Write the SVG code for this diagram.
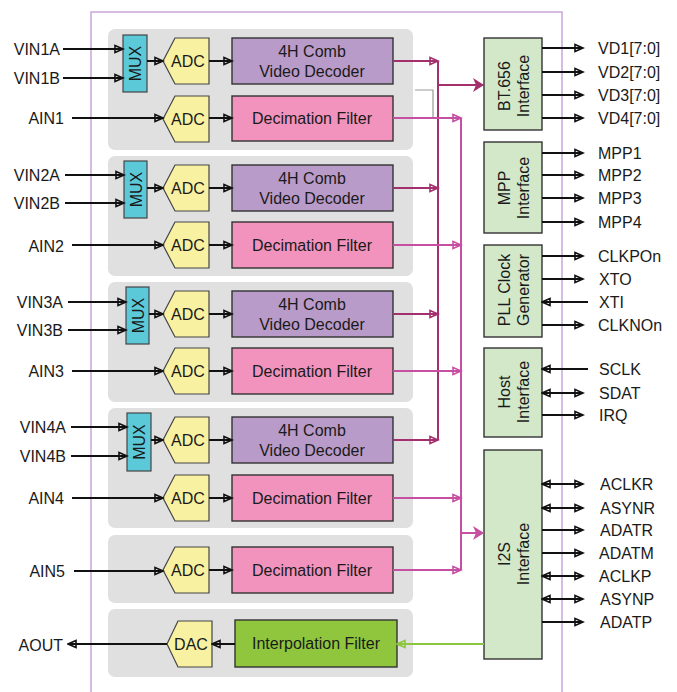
<svg xmlns="http://www.w3.org/2000/svg" width="677" height="692" viewBox="0 0 677 692">
<style>
text{font-family:"Liberation Sans",Arial,sans-serif;font-size:16px;fill:#1a1a1a}
.grp{fill:#e0e0e0}
.mux{fill:#5cc9d9;stroke:#444;stroke-width:1.2}
.adc{fill:#f8f1a2;stroke:#444;stroke-width:1.2}
.dec{fill:#b99bc9;stroke:#333;stroke-width:1.4}
.fil{fill:#f293bd;stroke:#333;stroke-width:1.4}
.itp{fill:#8fc63e;stroke:#333;stroke-width:1.4}
.ifc{fill:#d3e8c9;stroke:#333;stroke-width:1.4}
.bl{stroke:#111;stroke-width:2;fill:none}
.dm{stroke:#a3306c;stroke-width:2;fill:none}
.lm{stroke:#c64fa2;stroke-width:2;fill:none}
.gr{stroke:#8cc63f;stroke-width:2;fill:none}
.e{text-anchor:end}
.m{text-anchor:middle}
</style>
<defs>
<marker id="ab" markerUnits="userSpaceOnUse" markerWidth="11" markerHeight="10" refX="9.5" refY="5" orient="auto-start-reverse"><path d="M1.5,1.5 L9.5,5 L1.5,8.5 Z" fill="none" stroke="#111" stroke-width="1.6"/></marker>
<marker id="adm" markerUnits="userSpaceOnUse" markerWidth="11" markerHeight="10" refX="9.5" refY="5" orient="auto"><path d="M1.5,1.5 L9.5,5 L1.5,8.5 Z" fill="none" stroke="#a3306c" stroke-width="1.6"/></marker>
<marker id="alm" markerUnits="userSpaceOnUse" markerWidth="11" markerHeight="10" refX="9.5" refY="5" orient="auto"><path d="M1.5,1.5 L9.5,5 L1.5,8.5 Z" fill="none" stroke="#c64fa2" stroke-width="1.6"/></marker>
<marker id="agr" markerUnits="userSpaceOnUse" markerWidth="11" markerHeight="10" refX="9.5" refY="5" orient="auto"><path d="M1.5,1.5 L9.5,5 L1.5,8.5 Z" fill="none" stroke="#8cc63f" stroke-width="1.6"/></marker>
<marker id="bdm" markerUnits="userSpaceOnUse" markerWidth="12" markerHeight="14" refX="11" refY="7" orient="auto"><path d="M0,0 L11,7 L0,14 L3,7 Z" fill="#a3306c"/></marker>
<marker id="blm" markerUnits="userSpaceOnUse" markerWidth="12" markerHeight="14" refX="11" refY="7" orient="auto"><path d="M0,0 L11,7 L0,14 L3,7 Z" fill="#c64fa2"/></marker>
</defs>

<path d="M91,692 V12 H562 V692" fill="none" stroke="#c9a7da" stroke-width="1.5"/>

<g id="group1">
<rect class="grp" x="108" y="29" width="305" height="121" rx="7"/>
<rect class="mux" x="123" y="35" width="24" height="57"/>
<text class="m" transform="translate(135,63.5) rotate(-90)" y="6">MUX</text>
<polygon class="adc" points="175,38 209,38 209,84 175,84 163,61"/>
<text x="188" y="67" class="m">ADC</text>
<rect class="dec" x="232" y="38" width="161" height="46"/>
<text x="312" y="57" class="m">4H Comb</text>
<text x="312" y="77" class="m">Video Decoder</text>
<polygon class="adc" points="175,96 209,96 209,142 175,142 163,119"/>
<text x="188" y="125" class="m">ADC</text>
<rect class="fil" x="232" y="96" width="161" height="45"/>
<text x="312" y="124" class="m">Decimation Filter</text>
</g>

<g id="group2">
<rect class="grp" x="108" y="156" width="305" height="120" rx="7"/>
<rect class="mux" x="124" y="161" width="23" height="57"/>
<text class="m" transform="translate(135.5,189.5) rotate(-90)" y="6">MUX</text>
<polygon class="adc" points="175,165 209,165 209,211 175,211 163,188"/>
<text x="188" y="194" class="m">ADC</text>
<rect class="dec" x="232" y="165" width="161" height="46"/>
<text x="312" y="184" class="m">4H Comb</text>
<text x="312" y="204" class="m">Video Decoder</text>
<polygon class="adc" points="175,222 209,222 209,268 175,268 163,245"/>
<text x="188" y="251" class="m">ADC</text>
<rect class="fil" x="232" y="222" width="161" height="46"/>
<text x="312" y="251" class="m">Decimation Filter</text>
</g>

<g id="group3">
<rect class="grp" x="108" y="282" width="305" height="120" rx="7"/>
<rect class="mux" x="126" y="287" width="23" height="57"/>
<text class="m" transform="translate(137.5,315.5) rotate(-90)" y="6">MUX</text>
<polygon class="adc" points="175,291 209,291 209,337 175,337 163,314"/>
<text x="188" y="320" class="m">ADC</text>
<rect class="dec" x="232" y="291" width="161" height="46"/>
<text x="312" y="310" class="m">4H Comb</text>
<text x="312" y="330" class="m">Video Decoder</text>
<polygon class="adc" points="175,348 209,348 209,394 175,394 163,371"/>
<text x="188" y="377" class="m">ADC</text>
<rect class="fil" x="232" y="348" width="161" height="46"/>
<text x="312" y="377" class="m">Decimation Filter</text>
</g>

<g id="group4">
<rect class="grp" x="108" y="408" width="305" height="120" rx="7"/>
<rect class="mux" x="127" y="413" width="24" height="58"/>
<text class="m" transform="translate(139,442) rotate(-90)" y="6">MUX</text>
<polygon class="adc" points="175,417 209,417 209,463 175,463 163,440"/>
<text x="188" y="446" class="m">ADC</text>
<rect class="dec" x="232" y="417" width="161" height="46"/>
<text x="312" y="436" class="m">4H Comb</text>
<text x="312" y="456" class="m">Video Decoder</text>
<polygon class="adc" points="175,475 209,475 209,521 175,521 163,498"/>
<text x="188" y="504" class="m">ADC</text>
<rect class="fil" x="232" y="475" width="161" height="46"/>
<text x="312" y="504" class="m">Decimation Filter</text>
</g>

<g id="group5">
<rect class="grp" x="108" y="535" width="305" height="68" rx="7"/>
<polygon class="adc" points="175,547 209,547 209,593 175,593 163,570"/>
<text x="188" y="576" class="m">ADC</text>
<rect class="fil" x="232" y="547" width="161" height="46"/>
<text x="312" y="576" class="m">Decimation Filter</text>
</g>

<g id="group6">
<rect class="grp" x="108" y="609" width="305" height="68" rx="7"/>
<polygon class="adc" points="178,621 212,621 212,667 178,667 167,644"/>
<text x="191" y="650" class="m">DAC</text>
<rect class="itp" x="235" y="620" width="162" height="47"/>
<text x="316" y="649" class="m">Interpolation Filter</text>
</g>

<g id="bt656">
<rect class="ifc" x="484" y="38" width="58" height="92"/>
<g transform="translate(513,86) rotate(-90)"><text class="m" y="-3">BT.656</text><text class="m" y="16">Interface</text></g>
</g>
<g id="mpp">
<rect class="ifc" x="484" y="142" width="58" height="91"/>
<g transform="translate(513,188) rotate(-90)"><text class="m" y="-3">MPP</text><text class="m" y="16">Interface</text></g>
</g>
<g id="pll">
<rect class="ifc" x="484" y="245" width="58" height="92"/>
<g transform="translate(513,290) rotate(-90)"><text class="m" y="-3">PLL Clock</text><text class="m" y="16">Generator</text></g>
</g>
<g id="host">
<rect class="ifc" x="484" y="348" width="58" height="89"/>
<g transform="translate(513,392) rotate(-90)"><text class="m" y="-3">Host</text><text class="m" y="16">Interface</text></g>
</g>
<g id="i2s">
<rect class="ifc" x="484" y="450" width="58" height="209"/>
<g transform="translate(513,554) rotate(-90)"><text class="m" y="-3">I2S</text><text class="m" y="16">Interface</text></g>
</g>

<g id="labels">
<text x="60" y="55" class="e">VIN1A</text>
<text x="60" y="84" class="e">VIN1B</text>
<text x="64" y="124" class="e">AIN1</text>
<text x="60" y="181" class="e">VIN2A</text>
<text x="60" y="209" class="e">VIN2B</text>
<text x="64" y="252" class="e">AIN2</text>
<text x="63" y="308" class="e">VIN3A</text>
<text x="63" y="336" class="e">VIN3B</text>
<text x="64" y="377" class="e">AIN3</text>
<text x="66" y="433" class="e">VIN4A</text>
<text x="66" y="462" class="e">VIN4B</text>
<text x="64" y="504" class="e">AIN4</text>
<text x="65" y="577" class="e">AIN5</text>
<text x="63" y="651" class="e">AOUT</text>
<text x="598" y="54">VD1[7:0]</text>
<text x="598" y="78">VD2[7:0]</text>
<text x="598" y="101">VD3[7:0]</text>
<text x="598" y="124">VD4[7:0]</text>
<text x="598" y="159">MPP1</text>
<text x="598" y="181">MPP2</text>
<text x="598" y="204">MPP3</text>
<text x="598" y="228">MPP4</text>
<text x="598" y="262">CLKPOn</text>
<text x="599" y="285">XTO</text>
<text x="599" y="308">XTI</text>
<text x="598" y="331">CLKNOn</text>
<text x="599" y="375">SCLK</text>
<text x="599" y="399">SDAT</text>
<text x="599" y="421">IRQ</text>
<text x="600" y="490">ACLKR</text>
<text x="600" y="514">ASYNR</text>
<text x="600" y="536">ADATR</text>
<text x="599" y="559">ADATM</text>
<text x="599" y="582">ACLKP</text>
<text x="600" y="605">ASYNP</text>
<text x="600" y="628">ADATP</text>
</g>

<g id="connectors">
<!-- inputs -->
<path class="bl" d="M63,49 H123" marker-end="url(#ab)"/>
<path class="bl" d="M63,78 H123" marker-end="url(#ab)"/>
<path class="bl" d="M72,118 H163" marker-end="url(#ab)"/>
<path class="bl" d="M65,175 H124" marker-end="url(#ab)"/>
<path class="bl" d="M65,203 H124" marker-end="url(#ab)"/>
<path class="bl" d="M72,245 H163" marker-end="url(#ab)"/>
<path class="bl" d="M68,302 H126" marker-end="url(#ab)"/>
<path class="bl" d="M68,330 H126" marker-end="url(#ab)"/>
<path class="bl" d="M72,371 H163" marker-end="url(#ab)"/>
<path class="bl" d="M71,427 H127" marker-end="url(#ab)"/>
<path class="bl" d="M71,456 H127" marker-end="url(#ab)"/>
<path class="bl" d="M72,498 H163" marker-end="url(#ab)"/>
<path class="bl" d="M74,571 H163" marker-end="url(#ab)"/>
<!-- internal -->
<path class="bl" d="M147,61 H163" marker-end="url(#ab)"/>
<path class="bl" d="M209,61 H232" marker-end="url(#ab)"/>
<path class="bl" d="M209,118 H232" marker-end="url(#ab)"/>
<path class="bl" d="M147,188 H163" marker-end="url(#ab)"/>
<path class="bl" d="M209,188 H232" marker-end="url(#ab)"/>
<path class="bl" d="M209,245 H232" marker-end="url(#ab)"/>
<path class="bl" d="M149,314 H163" marker-end="url(#ab)"/>
<path class="bl" d="M209,314 H232" marker-end="url(#ab)"/>
<path class="bl" d="M209,371 H232" marker-end="url(#ab)"/>
<path class="bl" d="M151,440 H163" marker-end="url(#ab)"/>
<path class="bl" d="M209,440 H232" marker-end="url(#ab)"/>
<path class="bl" d="M209,498 H232" marker-end="url(#ab)"/>
<path class="bl" d="M209,570 H232" marker-end="url(#ab)"/>
<path class="bl" d="M235,644 H212" marker-end="url(#ab)"/>
<path class="bl" d="M167,644 H68" marker-end="url(#ab)"/>
<!-- gray bracket -->
<path d="M415,90 H433 V118" fill="none" stroke="#999" stroke-width="1.2"/>
<!-- dark magenta (video) -->
<path class="dm" d="M438,61 V440"/>
<path class="dm" d="M393,61 H438" marker-end="url(#adm)"/>
<path class="dm" d="M393,188 H438" marker-end="url(#adm)"/>
<path class="dm" d="M393,314 H438" marker-end="url(#adm)"/>
<path class="dm" d="M393,440 H438" marker-end="url(#adm)"/>
<path class="dm" d="M438,85 H484" stroke-width="2.5" marker-end="url(#bdm)"/>
<!-- light magenta (audio) -->
<path class="lm" d="M461,118 V570"/>
<path class="lm" d="M393,118 H461" marker-end="url(#alm)"/>
<path class="lm" d="M393,245 H461" marker-end="url(#alm)"/>
<path class="lm" d="M393,371 H461" marker-end="url(#alm)"/>
<path class="lm" d="M393,498 H461" marker-end="url(#alm)"/>
<path class="lm" d="M393,570 H461" marker-end="url(#alm)"/>
<path class="lm" d="M461,533 H484" stroke-width="2.5" marker-end="url(#blm)"/>
<!-- green -->
<path class="gr" d="M484,644 H397" marker-end="url(#agr)"/>
<!-- right outputs -->
<path class="bl" d="M542,48 H583" marker-end="url(#ab)"/>
<path class="bl" d="M542,72 H583" marker-end="url(#ab)"/>
<path class="bl" d="M542,95 H583" marker-end="url(#ab)"/>
<path class="bl" d="M542,118 H583" marker-end="url(#ab)"/>
<path class="bl" d="M542,153 H583" marker-end="url(#ab)"/>
<path class="bl" d="M542,175 H583" marker-end="url(#ab)"/>
<path class="bl" d="M542,198 H583" marker-end="url(#ab)"/>
<path class="bl" d="M542,222 H583" marker-end="url(#ab)"/>
<path class="bl" d="M542,256 H583" marker-end="url(#ab)"/>
<path class="bl" d="M542,279 H583" marker-end="url(#ab)"/>
<path class="bl" d="M588,302 H542" marker-end="url(#ab)"/>
<path class="bl" d="M542,325 H583" marker-end="url(#ab)"/>
<path class="bl" d="M588,369 H542" marker-end="url(#ab)"/>
<path class="bl" d="M542,393 H583" marker-start="url(#ab)" marker-end="url(#ab)"/>
<path class="bl" d="M542,415 H583" marker-end="url(#ab)"/>
<path class="bl" d="M542,484 H583" marker-start="url(#ab)" marker-end="url(#ab)"/>
<path class="bl" d="M542,508 H583" marker-start="url(#ab)" marker-end="url(#ab)"/>
<path class="bl" d="M542,530 H583" marker-end="url(#ab)"/>
<path class="bl" d="M542,553 H583" marker-end="url(#ab)"/>
<path class="bl" d="M542,576 H583" marker-start="url(#ab)" marker-end="url(#ab)"/>
<path class="bl" d="M542,599 H583" marker-start="url(#ab)" marker-end="url(#ab)"/>
<path class="bl" d="M542,622 H583" marker-end="url(#ab)"/>
</g>
</svg>
